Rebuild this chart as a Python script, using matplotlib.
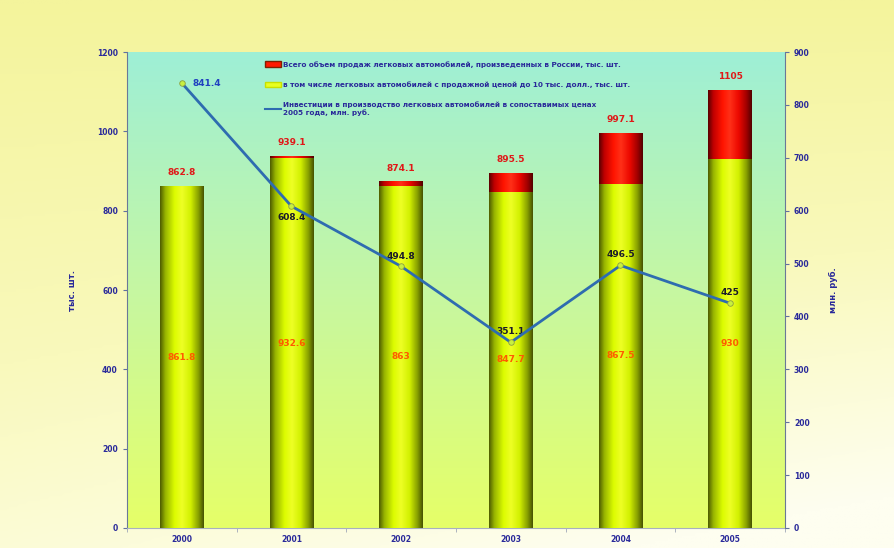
import numpy as np
import matplotlib
matplotlib.use('Agg')
import matplotlib.pyplot as plt
from matplotlib.colors import LinearSegmentedColormap
from matplotlib.patches import Patch
from matplotlib.lines import Line2D

years = ['2000', '2001', '2002', '2003', '2004', '2005']
total_sales = [862.8, 939.1, 874.1, 895.5, 997.1, 1105]
cheap_sales = [861.8, 932.6, 863, 847.7, 867.5, 930]
investment = [841.4, 608.4, 494.8, 351.1, 496.5, 425]

total_labels = ['862.8', '939.1', '874.1', '895.5', '997.1', '1105']
cheap_labels = ['861.8', '932.6', '863', '847.7', '867.5', '930']
invest_labels = ['841.4', '608.4', '494.8', '351.1', '496.5', '425']

legend_texts = [
    'Всего объем продаж легковых автомобилей, произведенных в России, тыс. шт.',
    'в том числе легковых автомобилей с продажной ценой до 10 тыс. долл., тыс. шт.',
    'Инвестиции в производство легковых автомобилей в сопоставимых ценах\n2005 года, млн. руб.',
]

tick_color = '#2a2a9a'
plt.rcParams['font.family'] = ['DejaVu Sans']

fig = plt.figure(figsize=(8.94, 5.48), dpi=100)

# page background: pale yellow fading to white towards bottom right
bg = fig.add_axes([0, 0, 1, 1], zorder=-10)
bg.axis('off')
yy, xx = np.mgrid[0:1:200j, 0:1:200j]
t = np.clip(0.75 * yy + 0.35 * xx * yy, 0, 1)
page_cmap = LinearSegmentedColormap.from_list('page', ['#f4f49c', '#f9f9bc', '#fefef0'])
bg.imshow(t, cmap=page_cmap, aspect='auto', extent=[0, 1, 0, 1], origin='upper')
bg.set_xlim(0, 1)
bg.set_ylim(0, 1)

ax = fig.add_axes([0.142, 0.0365, 0.736, 0.8685])
ax.set_facecolor('none')

# plot area background: aqua at top, yellow-green at bottom
area_cmap = LinearSegmentedColormap.from_list('area', ['#e6ff68', '#c6f7a2', '#9eefd6'])
ax.imshow(np.linspace(0, 1, 256).reshape(-1, 1), cmap=area_cmap, aspect='auto',
          extent=[0, 1, 0, 1], transform=ax.transAxes, origin='lower', zorder=0)

x = np.arange(len(years))
red_part = np.array(total_sales) - np.array(cheap_sales)
bar_w = 0.4
yel_bars = ax.bar(x, cheap_sales, width=bar_w, color='#d8f800', zorder=2)
red_bars = ax.bar(x, red_part, bottom=cheap_sales, width=bar_w, color='#ff1a00', zorder=2)

yel_cmap = LinearSegmentedColormap.from_list(
    'cyl_y', [(0, '#4e5c00'), (0.12, '#98b400'), (0.33, '#dcfc00'), (0.5, '#eeff26'),
              (0.7, '#d2f000'), (0.88, '#869e00'), (1, '#465200')])
red_cmap = LinearSegmentedColormap.from_list(
    'cyl_r', [(0, '#5a0000'), (0.12, '#c00000'), (0.33, '#ff1400'), (0.5, '#ff3018'),
              (0.7, '#ec0800'), (0.88, '#a00000'), (1, '#520000')])
grad = np.linspace(0, 1, 128).reshape(1, -1)
for bars, cmap in ((yel_bars, yel_cmap), (red_bars, red_cmap)):
    for p in bars:
        bx, by = p.get_x(), p.get_y()
        im = ax.imshow(grad, cmap=cmap, aspect='auto', zorder=3,
                       extent=[bx, bx + p.get_width(), by, by + p.get_height()])
        im.set_clip_path(p)

ax.set_xlim(-0.5, len(years) - 0.5)
ax.set_ylim(0, 1200)
ax.set_yticks(range(0, 1201, 200))
ax.set_xticks(x)
ax.set_xticklabels(years)
ax.set_xticks(np.arange(-0.5, len(years), 1), minor=True)
ax.tick_params(axis='both', colors='#6070a0', labelcolor=tick_color, labelsize=5.5, length=3)
ax.tick_params(axis='x', which='minor', length=3, colors='#a0a8b8')
ax.tick_params(axis='x', which='major', length=0, pad=5)
for lab in ax.get_xticklabels() + ax.get_yticklabels():
    lab.set_fontweight('bold')
ax.spines['top'].set_visible(False)
ax.spines['right'].set_visible(False)
ax.spines['left'].set_color('#6a7898')
ax.spines['bottom'].set_color('#a8b0c0')
ax.set_ylabel('тыс. шт.', color=tick_color, fontsize=6, fontweight='bold', labelpad=14)

for i in range(len(years)):
    ax.text(x[i], total_sales[i] + 22, total_labels[i], ha='center', va='bottom',
            color='#e01818', fontsize=6.5, fontweight='bold', zorder=6)
    ax.text(x[i], cheap_sales[i] / 2, cheap_labels[i], ha='center', va='center',
            color='#ff5a00', fontsize=6.5, fontweight='bold', zorder=6)

ax2 = ax.twinx()
ax2.set_ylim(0, 900)
ax2.set_yticks(range(0, 901, 100))
ax2.plot(x, investment, color='#2e6cb0', lw=2, marker='o', ms=4,
         mfc='#c8f040', mec='#8aa040', mew=0.6, zorder=5)
ax2.tick_params(axis='y', colors='#6070a0', labelcolor=tick_color, labelsize=5.5, length=3)
for lab in ax2.get_yticklabels():
    lab.set_fontweight('bold')
for s in ('top', 'left', 'bottom'):
    ax2.spines[s].set_visible(False)
ax2.spines['right'].set_color('#6a7898')
ax2.set_ylabel('млн. руб.', color=tick_color, fontsize=6, fontweight='bold', labelpad=14)

ax2.text(x[0] + 0.1, investment[0], invest_labels[0], ha='left', va='center',
         color='#2040c0', fontsize=6.5, fontweight='bold')
offsets = [None, -22, 18, 20, 20, 20]
for i in range(1, len(years)):
    ax2.text(x[i], investment[i] + offsets[i], invest_labels[i], ha='center',
             va='center', color='#1a1a2a', fontsize=6.5, fontweight='bold')

handles = [
    Patch(facecolor='#ff1a00', edgecolor='#802000'),
    Patch(facecolor='#e8ff20', edgecolor='#c8e000'),
    Line2D([0], [0], color='#2e6cb0', lw=1.5),
]
leg = ax2.legend(handles, legend_texts, loc='upper left', bbox_to_anchor=(0.2, 0.995),
                 frameon=False, fontsize=5.2, labelcolor=tick_color,
                 handlelength=2.2, handleheight=0.8, handletextpad=0.3, labelspacing=1.9)
for txt in leg.get_texts():
    txt.set_fontweight('bold')

fig.savefig('out.png', dpi=100)
